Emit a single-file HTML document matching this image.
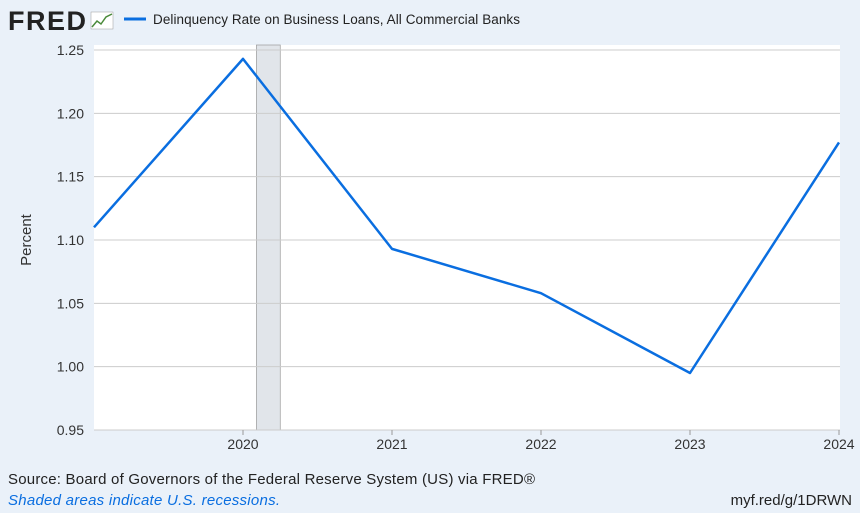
<!DOCTYPE html>
<html><head><meta charset="utf-8"><style>
body{margin:0;background:#eaf1f9;font-family:"Liberation Sans",Arial,sans-serif;}
svg{display:block}
</style></head><body>
<svg width="860" height="513" xmlns="http://www.w3.org/2000/svg">
<rect x="0" y="0" width="860" height="513" fill="#eaf1f9"/>
<text x="8" y="30" font-size="27" font-weight="bold" fill="#222" textLength="78">FRED</text>
<g><rect x="91" y="12" width="22" height="17" fill="#fff" stroke="#999" stroke-width="0.5"/><polyline points="92,27 97,21 101,24 106,17 112,14" fill="none" stroke="#4a8a3a" stroke-width="1.5"/></g>
<line x1="124" y1="19" x2="146" y2="19" stroke="#0a6ee0" stroke-width="3"/>
<text x="153" y="24" font-size="13.5" fill="#222" textLength="367">Delinquency Rate on Business Loans, All Commercial Banks</text>
<rect x="94" y="45" width="746" height="385" fill="#fff"/>
<g id="shades"></g><g id="grid"></g><g id="xt"></g>
<path id="line" fill="none" stroke="#0a6ee0" stroke-width="2.5" stroke-linejoin="round"/>
<text transform="translate(31,240) rotate(-90)" text-anchor="middle" font-size="15" fill="#333">Percent</text>
<text x="8" y="484" font-size="15" fill="#222" textLength="527">Source: Board of Governors of the Federal Reserve System (US) via FRED®</text>
<text x="8" y="505" font-size="15" font-style="italic" fill="#0a6ee0" textLength="272">Shaded areas indicate U.S. recessions.</text>
<text x="852" y="505" text-anchor="end" font-size="15" fill="#222">myf.red/g/1DRWN</text>
</svg>
<script>
const years=[2019,2020,2021,2022,2023,2024];
const values=[1.110,1.243,1.093,1.058,0.995,1.177];
const yTicks=[0.95,1.00,1.05,1.10,1.15,1.20,1.25];
const xTicks=[2020,2021,2022,2023,2024];
const recessions=[[2020.09,2020.25]];
const NS="http://www.w3.org/2000/svg";
const X=v=>94+(v-2019)*149;
const Y=v=>430-(v-0.95)/0.30*380;
const g=document.getElementById('grid'),xt=document.getElementById('xt'),sh=document.getElementById('shades');
recessions.forEach(r=>{const e=document.createElementNS(NS,'rect');
e.setAttribute('x',X(r[0]));e.setAttribute('y',45);e.setAttribute('width',X(r[1])-X(r[0]));e.setAttribute('height',385);
e.setAttribute('fill','#e1e5ea');e.setAttribute('stroke','#999');e.setAttribute('stroke-width','0.7');


sh.appendChild(e);});
yTicks.forEach(t=>{const l=document.createElementNS(NS,'line');
l.setAttribute('x1',94);l.setAttribute('x2',840);l.setAttribute('y1',Y(t));l.setAttribute('y2',Y(t));
l.setAttribute('stroke','#ccc');l.setAttribute('stroke-width','1');


g.appendChild(l);
const s=document.createElementNS(NS,'text');s.setAttribute('x',84);s.setAttribute('y',Y(t)+5);
s.setAttribute('text-anchor','end');s.setAttribute('font-size','14');s.setAttribute('fill','#333');s.textContent=t.toFixed(2);


g.appendChild(s);});
xTicks.forEach(t=>{const s=document.createElementNS(NS,'text');s.setAttribute('x',X(t));s.setAttribute('y',449);
s.setAttribute('text-anchor','middle');s.setAttribute('font-size','14');s.setAttribute('fill','#333');s.textContent=t;


xt.appendChild(s);
const l=document.createElementNS(NS,'line');l.setAttribute('x1',X(t));l.setAttribute('x2',X(t));l.setAttribute('y1',430);l.setAttribute('y2',435);l.setAttribute('stroke','#999');


xt.appendChild(l);});
document.getElementById('line').setAttribute('d',years.map((y,i)=>(i?'L':'M')+X(y)+','+Y(values[i])).join(' '));
</script>
</body></html>
